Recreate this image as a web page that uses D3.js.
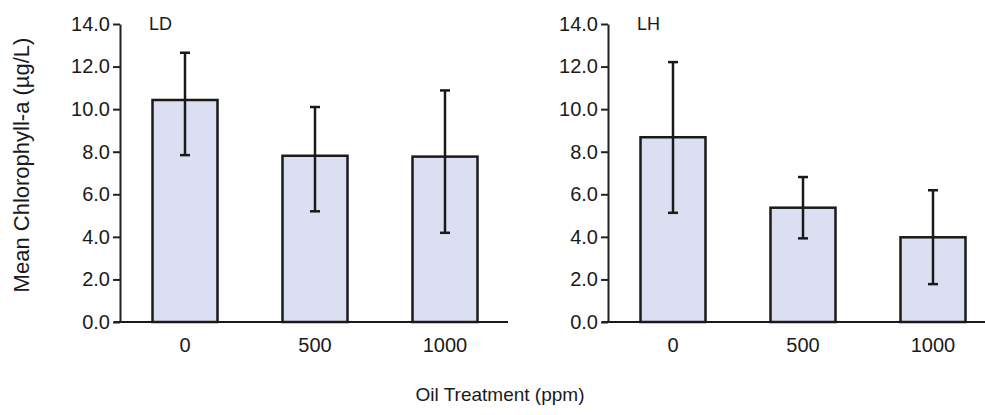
<!DOCTYPE html>
<html>
<head>
<meta charset="utf-8">
<style>
  body { margin: 0; background: #fff; }
  svg { display: block; font-family: Arial, 'Liberation Sans', sans-serif; }
  .tick line, .domain { stroke: #222; stroke-width: 2; }
  .tick text { fill: #1a1a1a; font-size: 20px; }
</style>
</head>
<body>
<div id="chart"></div>
<script src="https://cdnjs.cloudflare.com/ajax/libs/d3/7.8.5/d3.min.js"></script>
<script>
// data
const treatments = ['0', '500', '1000']
const yTicks = [0, 2, 4, 6, 8, 10, 12, 14]

const ldMean  = [10.43, 7.81, 7.77]
const ldUpper = [12.65, 10.10, 10.88]
const ldLower = [7.84, 5.20, 4.19]

const lhMean  = [8.68, 5.37, 3.98]
const lhUpper = [12.21, 6.81, 6.19]
const lhLower = [5.13, 3.93, 1.78]

const panels = [
  { name: 'LD', mean: ldMean, upper: ldUpper, lower: ldLower, left: 120 },
  { name: 'LH', mean: lhMean, upper: lhUpper, lower: lhLower, left: 608 }
]

const W = 985, H = 415
const plotTop = 24, plotBottom = 322
const ink = '#1a1a1a'

const svg = d3.select('#chart').append('svg')
  .attr('width', W).attr('height', H)

const y = d3.scaleLinear().domain([0, 14]).range([plotBottom, plotTop])

panels.forEach(p => {
  const g = svg.append('g')

  const x = d3.scaleBand()
    .domain(treatments)
    .range([p.left, p.left + 390])
    .paddingInner(0.5)
    .paddingOuter(0.25)

  const rows = treatments.map((t, i) => ({ t, mean: p.mean[i], hi: p.upper[i], lo: p.lower[i] }))

  // bars
  g.selectAll('rect.bar')
    .data(rows)
    .join('rect')
    .attr('class', 'bar')
    .attr('x', d => x(d.t))
    .attr('y', d => y(d.mean))
    .attr('width', x.bandwidth())
    .attr('height', d => y(0) - y(d.mean))
    .attr('fill', '#dcdff2')
    .attr('stroke', ink)
    .attr('stroke-width', 2.5)

  // error bars
  const err = g.append('g').selectAll('g')
    .data(rows)
    .join('g')
    .attr('stroke', ink)
    .attr('stroke-width', 2.5)

  err.append('line')
    .attr('x1', d => x(d.t) + x.bandwidth() / 2)
    .attr('x2', d => x(d.t) + x.bandwidth() / 2)
    .attr('y1', d => y(d.hi))
    .attr('y2', d => y(d.lo))

  ;['hi', 'lo'].forEach(k => {
    err.append('line')
      .attr('x1', d => x(d.t) + x.bandwidth() / 2 - 5)
      .attr('x2', d => x(d.t) + x.bandwidth() / 2 + 5)
      .attr('y1', d => y(d[k]))
      .attr('y2', d => y(d[k]))
  })

  // baseline
  g.append('line')
    .attr('x1', p.left - 6)
    .attr('x2', Math.min(x.range()[1] - 2, W))
    .attr('y1', y(0)).attr('y2', y(0))
    .attr('stroke', ink)
    .attr('stroke-width', 2)

  // x labels
  const xa = g.append('g')
    .attr('transform', `translate(0,${y(0)})`)
    .call(d3.axisBottom(x).tickSize(0).tickPadding(16))
  xa.select('.domain').remove()

  // y axis
  g.append('g')
    .attr('transform', `translate(${p.left},0)`)
    .call(d3.axisLeft(y)
      .tickValues(yTicks)
      .tickFormat(d3.format('.1f'))
      .tickSize(7)
      .tickSizeOuter(0)
      .tickPadding(3))

  g.append('text')
    .attr('x', p.left + 29)
    .attr('y', 30)
    .attr('font-size', 18)
    .attr('fill', ink)
    .text(p.name)
})

// axis titles
svg.append('text')
  .attr('transform', `translate(29,${(plotTop + plotBottom) / 2 - 8}) rotate(-90)`)
  .attr('text-anchor', 'middle')
  .attr('font-size', 22)
  .attr('fill', ink)
  .text('Mean Chlorophyll-a (µg/L)')

svg.append('text')
  .attr('x', 500)
  .attr('y', 401)
  .attr('text-anchor', 'middle')
  .attr('font-size', 19)
  .attr('fill', ink)
  .text('Oil Treatment (ppm)')
</script>
</body>
</html>
